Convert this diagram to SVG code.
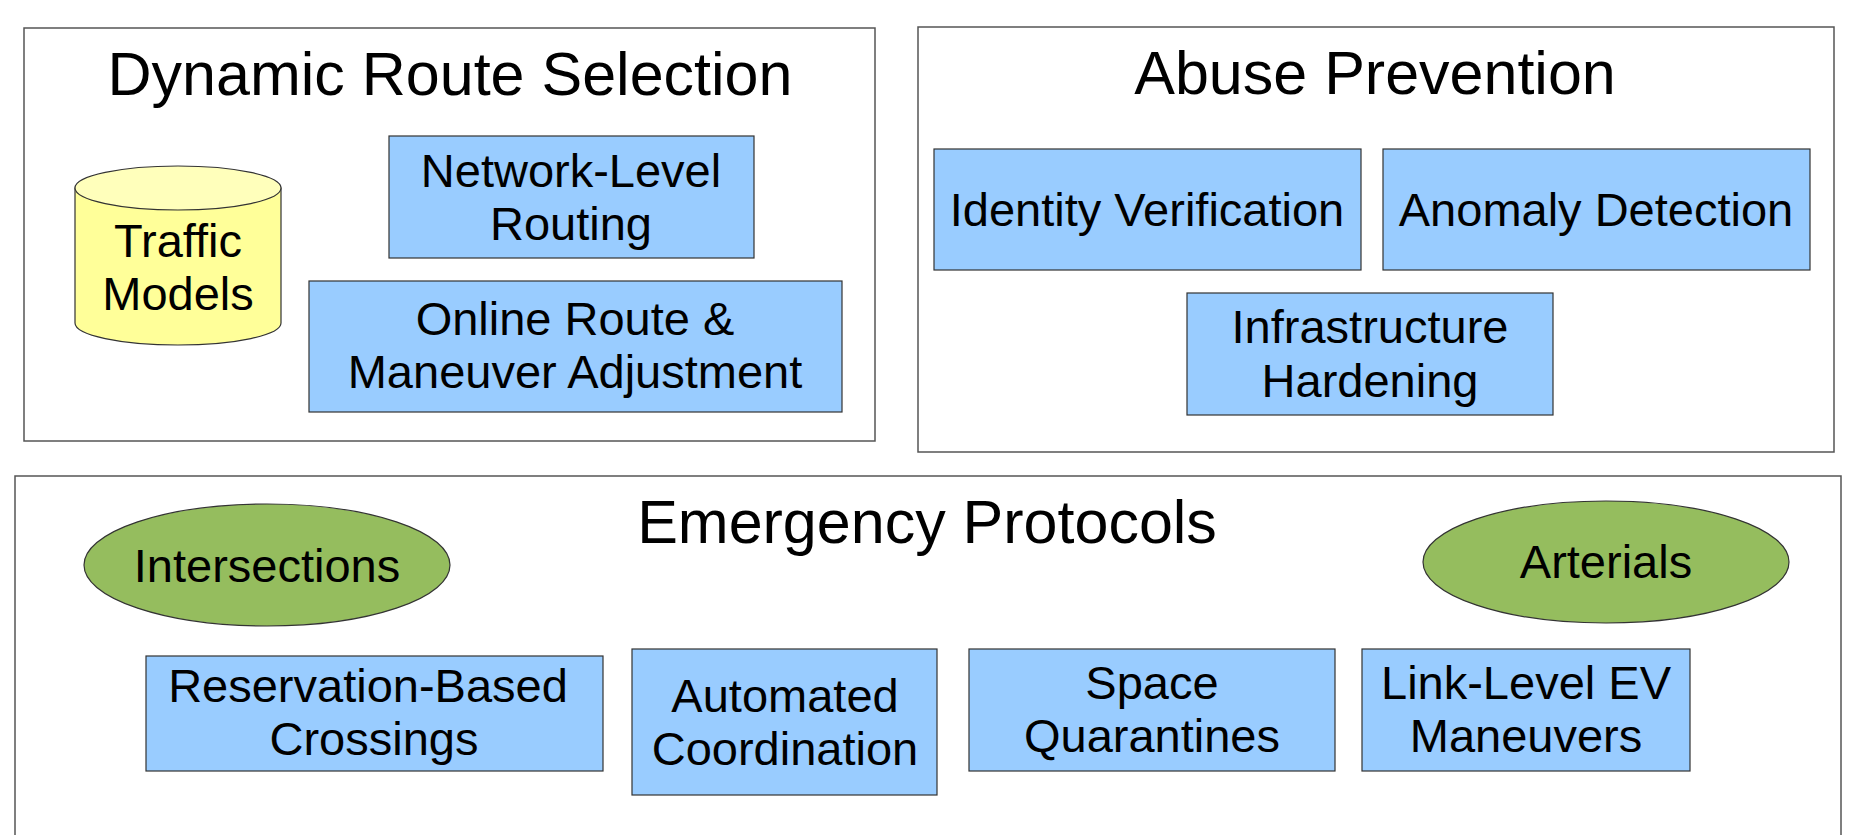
<svg xmlns="http://www.w3.org/2000/svg" width="1859" height="835" viewBox="0 0 1859 835">
<style>
.frame{fill:#ffffff;stroke:#555555;stroke-width:1.5}
.box{fill:#99ccff;stroke:#333333;stroke-width:1.2}
.cyl{fill:#ffff99;stroke:#333333;stroke-width:1.2}
.cyltop{fill:#ffffbb;stroke:#333333;stroke-width:1.2}
.ell{fill:#95bd5e;stroke:#333333;stroke-width:1.2}
text{font-family:"Liberation Sans",Arial,sans-serif;fill:#000000;text-anchor:middle}
.title{font-size:61px}
.lbl{font-size:47px}
</style>
<rect width="1859" height="835" fill="#ffffff"/>
<g id="dynamic-route-selection">
<rect class="frame" x="24" y="28" width="851" height="413"/>
<text class="title" x="450" y="95">Dynamic Route Selection</text>
</g>
<g id="traffic-models">
<path class="cyl" d="M75,188 L75,323 A103,22 0 0 0 281,323 L281,188 Z"/>
<ellipse class="cyltop" cx="178" cy="188" rx="103" ry="22"/>
<text class="lbl" x="178" y="257">Traffic</text>
<text class="lbl" x="178" y="310">Models</text>
</g>
<g id="network-level-routing">
<rect class="box" x="389" y="136" width="365" height="122"/>
<text class="lbl" x="571" y="187">Network-Level</text>
<text class="lbl" x="571" y="240">Routing</text>
</g>
<g id="online-route">
<rect class="box" x="309" y="281" width="533" height="131"/>
<text class="lbl" x="575" y="335">Online Route &amp;</text>
<text class="lbl" x="575" y="388">Maneuver Adjustment</text>
</g>
<g id="abuse-prevention">
<rect class="frame" x="918" y="27" width="916" height="425"/>
<text class="title" x="1375" y="94">Abuse Prevention</text>
</g>
<g id="identity-verification">
<rect class="box" x="934" y="149" width="427" height="121"/>
<text class="lbl" x="1147" y="226">Identity Verification</text>
</g>
<g id="anomaly-detection">
<rect class="box" x="1383" y="149" width="427" height="121"/>
<text class="lbl" x="1596" y="226">Anomaly Detection</text>
</g>
<g id="infrastructure-hardening">
<rect class="box" x="1187" y="293" width="366" height="122"/>
<text class="lbl" x="1370" y="343">Infrastructure</text>
<text class="lbl" x="1370" y="397">Hardening</text>
</g>
<g id="emergency-protocols">
<rect class="frame" x="15" y="476" width="1826" height="380"/>
<text class="title" x="927" y="543">Emergency Protocols</text>
</g>
<g id="intersections">
<ellipse class="ell" cx="267" cy="565" rx="183" ry="61"/>
<text class="lbl" x="267" y="582">Intersections</text>
</g>
<g id="arterials">
<ellipse class="ell" cx="1606" cy="562" rx="183" ry="61"/>
<text class="lbl" x="1606" y="578">Arterials</text>
</g>
<g id="reservation-based-crossings">
<rect class="box" x="146" y="656" width="457" height="115"/>
<text class="lbl" x="368" y="702">Reservation-Based</text>
<text class="lbl" x="374" y="755">Crossings</text>
</g>
<g id="automated-coordination">
<rect class="box" x="632" y="649" width="305" height="146"/>
<text class="lbl" x="785" y="712">Automated</text>
<text class="lbl" x="785" y="765">Coordination</text>
</g>
<g id="space-quarantines">
<rect class="box" x="969" y="649" width="366" height="122"/>
<text class="lbl" x="1152" y="699">Space</text>
<text class="lbl" x="1152" y="752">Quarantines</text>
</g>
<g id="link-level-ev-maneuvers">
<rect class="box" x="1362" y="649" width="328" height="122"/>
<text class="lbl" x="1526" y="699">Link-Level EV</text>
<text class="lbl" x="1526" y="752">Maneuvers</text>
</g>
<g id="connectors"></g>
</svg>
